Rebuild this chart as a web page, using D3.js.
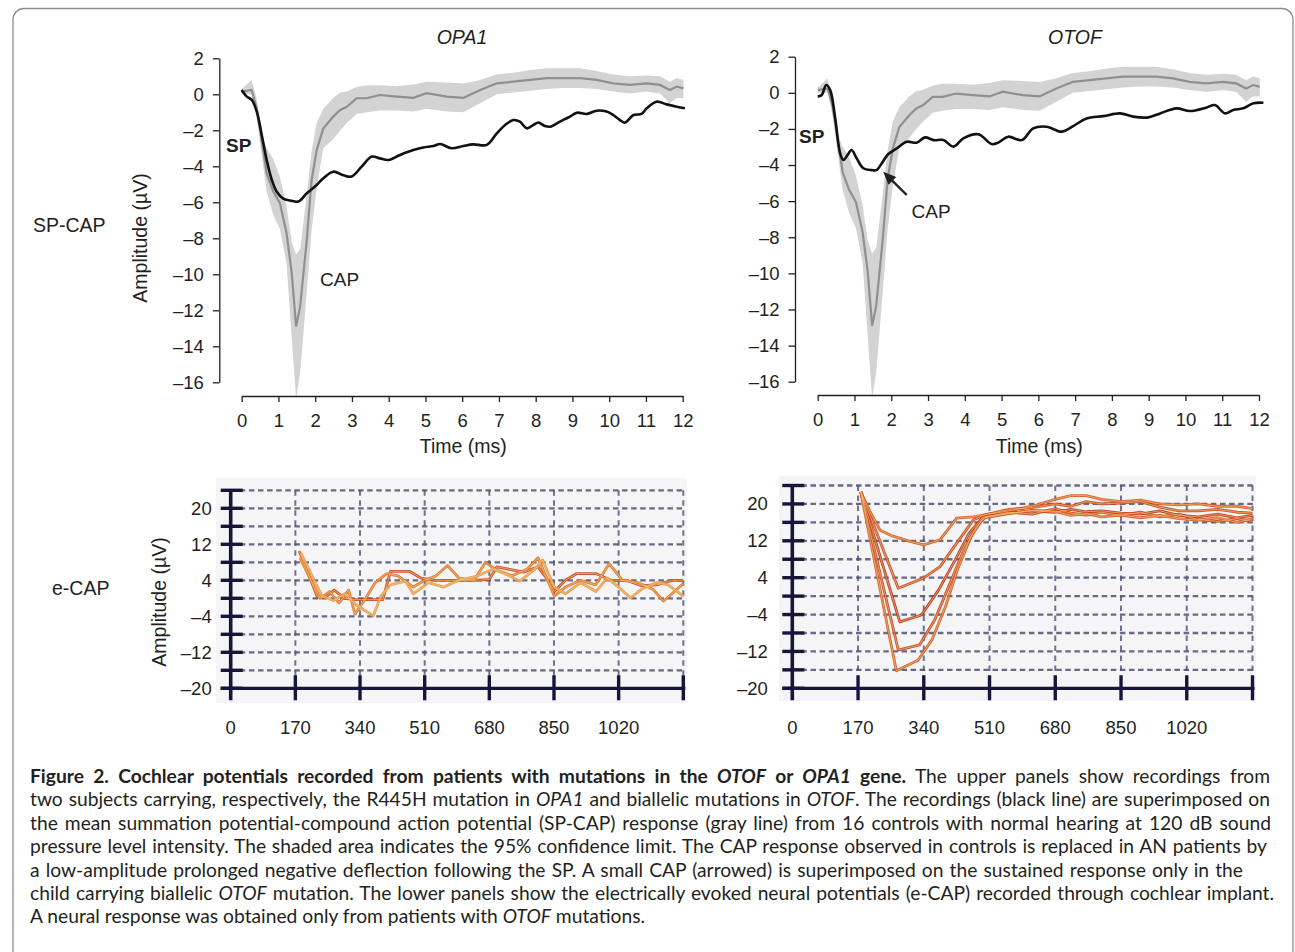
<!DOCTYPE html>
<html lang="en">
<head>
<meta charset="UTF-8" />
<title>Cochlear potentials</title>
<script src="https://cdn.jsdelivr.net/npm/d3@7"></script>
<style>
  body { margin: 0; background: #fff; }
  svg { display: block; font-family: "Liberation Sans", Arial, sans-serif; }
</style>
</head>
<body>
<svg id="fig" width="1295" height="952"></svg>
<script>

// ---- SP-CAP data (time in ms, amplitude in uV) ----
// control mean and 95% limits (same controls in both upper panels)
var ctrlTime = [0, 0.27, 0.4, 0.6, 0.68, 0.86, 1.04, 1.22, 1.36, 1.48, 1.59, 1.77, 1.9, 2.04, 2.22, 2.49, 2.68, 2.86, 3.13, 3.4,
                3.76, 4.22, 4.67, 5.03, 5.58, 6.03, 6.49, 6.94, 7.39, 7.85, 8.3, 8.75, 9.2, 9.66, 10.11, 10.57, 11.02, 11.38, 11.65, 11.84, 12.02];
var ctrlMean = [0.15, 0.24, -0.7, -3.3, -4.4, -5.4, -6.05, -7.7, -9.9, -12.9, -11.8, -8.1, -4.8, -3.1, -1.9, -1.24, -0.87, -0.69, -0.22, -0.22,
                -0.04, -0.13, -0.2, 0.06, -0.13, -0.2, 0.24, 0.61, 0.7, 0.8, 0.9, 0.9, 0.9, 0.8, 0.61, 0.52, 0.61, 0.52, 0.24, 0.43, 0.33];
var ctrlLow  = [0.0, 0.0, -1.2, -4.2, -5.4, -6.7, -7.5, -9.4, -13.5, -16.9, -15.5, -11, -7.6, -5.2, -3.0, -2.5, -2.0, -1.6, -1.1, -1.0,
                -0.9, -0.9, -0.95, -0.8, -0.95, -1.0, -0.5, 0.0, 0.1, 0.2, 0.3, 0.35, 0.35, 0.3, 0.15, 0.05, 0.15, 0.05, -0.5, -0.2, -0.2];
var ctrlHigh = [0.3, 0.8, -0.2, -2.6, -3.0, -3.6, -4.6, -6.2, -8.2, -8.9, -8.6, -5.6, -3.2, -1.6, -0.8, -0.2, 0.1, 0.15, 0.4, 0.5,
                0.5, 0.45, 0.55, 0.7, 0.65, 0.6, 0.8, 1.1, 1.2, 1.35, 1.45, 1.45, 1.45, 1.3, 1.1, 1.0, 1.05, 1.0, 0.7, 0.9, 0.8];

// OPA1 patient recording
var opa1Time = [0, 0.14, 0.27, 0.41, 0.54, 0.68, 0.82, 0.95, 1.13, 1.32, 1.54, 1.77, 2.04, 2.22, 2.49, 2.77, 2.99, 3.27, 3.54, 3.76,
                3.99, 4.31, 4.67, 4.94, 5.22, 5.4, 5.71, 6.03, 6.3, 6.67, 6.94, 7.17, 7.39, 7.57, 7.76, 7.94, 8.07, 8.25, 8.39, 8.66,
                8.93, 9.12, 9.39, 9.66, 9.93, 10.11, 10.29, 10.43, 10.66, 10.88, 11.02, 11.29, 11.56, 11.84, 12.06];
var opa1Amp  = [0.24, -0.13, -0.3, -0.96, -2.2, -3.65, -4.76, -5.4, -5.8, -5.9, -5.96, -5.5, -5.04, -4.67, -4.3, -4.5, -4.57, -4.0, -3.46, -3.56,
                -3.65, -3.37, -3.1, -2.95, -2.87, -2.76, -3.0, -2.87, -2.78, -2.81, -2.17, -1.7, -1.43, -1.52, -1.89, -1.7, -1.57, -1.76, -1.8, -1.52,
                -1.24, -1.02, -1.09, -0.91, -0.96, -1.15, -1.43, -1.57, -1.15, -1.09, -0.78, -0.41, -0.56, -0.69, -0.78];

// OTOF patient recording
var otofTime = [0, 0.11, 0.23, 0.34, 0.47, 0.61, 0.7, 0.81, 0.92, 1.06, 1.24, 1.47, 1.6, 1.74, 1.92, 2.15, 2.42, 2.69, 2.92, 3.15,
                3.42, 3.69, 3.96, 4.37, 4.73, 4.91, 5.18, 5.55, 5.86, 6.23, 6.63, 6.95, 7.31, 7.77, 8.22, 8.58, 8.99, 9.31, 9.76, 10.12,
                10.58, 10.8, 11.08, 11.3, 11.57, 11.85, 12.12];
var otofAmp  = [-0.2, -0.12, 0.43, 0.15, -1.32, -3.35, -3.72, -3.45, -3.17, -3.63, -4.18, -4.28, -4.28, -3.91, -3.39, -3.08, -2.71, -2.76, -2.47, -2.62,
                -2.62, -2.98, -2.52, -2.3, -2.84, -2.76, -2.43, -2.62, -1.97, -1.88, -2.15, -1.84, -1.42, -1.29, -1.14, -1.32, -1.36, -1.14, -0.86, -1.01,
                -0.81, -0.68, -1.14, -0.95, -0.86, -0.58, -0.55];

var ampTicks  = [2, 0, -2, -4, -6, -8, -10, -12, -14, -16];
var timeTicks = [0, 1, 2, 3, 4, 5, 6, 7, 8, 9, 10, 11, 12];

// arrow pointing at the small CAP in the OTOF recording: [time, amp]
var capArrowTail = [2.42, -5.66];
var capArrowTip  = [1.78, -4.37];

// ---- e-CAP data (time units as printed, amplitude in uV) ----
var ecapLabelTicks = [20, 12, 4, -4, -12, -20];
var ecapGridLevels = [24, 20, 16, 12, 8, 4, 0, -4, -8, -12, -16, -20];
var ecapTimeTicks  = [0, 170, 340, 510, 680, 850, 1020];
var ecapTimeMax = 1190;

var opa1Ecap1 = [[180,10.5],[228,0.3],[250,0.3],[272,1.8],[300,0],[330,-0.3],[360,-0.3],[400,-0.3],[420,6],[470,6],[500,4.5],[540,4],[580,4],
                 [640,4],[680,4.2],[700,7],[730,6.5],[770,5.8],[808,7],[830,4.5],[851,1.5],[880,4],[910,5.5],[960,5.5],[1000,4],[1040,4],
                 [1080,2.8],[1120,3],[1160,4],[1190,4]];
var opa1Ecap2 = [[182,9],[235,0],[260,1.5],[285,-1],[310,1.8],[327,-3.5],[355,0],[380,3.5],[410,5.5],[440,5],[480,2.5],[510,4],[540,5],
                 [570,7.3],[600,4.5],[640,4],[670,8],[700,6.2],[740,5],[780,6.5],[808,9],[851,0.5],[880,2.5],[920,4],[960,3],[995,7.7],
                 [1030,4],[1070,3.5],[1110,2],[1138,-0.6],[1160,1],[1190,3.3]];
var opa1Ecap3 = [[185,10],[240,0.5],[270,-0.5],[300,1],[330,-1.5],[375,-3.9],[395,0.5],[420,3],[460,3.8],[480,1],[520,3.5],[560,2.5],
                 [600,4],[650,5],[690,6.5],[720,5.5],[760,3.8],[800,6.5],[820,8.5],[851,2.5],[880,1],[920,3.5],[960,1.5],[990,4.5],
                 [1020,2.5],[1051,0.1],[1080,2],[1120,3.5],[1150,3],[1190,0.5]];

var otofEcap1 = [[177,22.6],[200,18.5],[227,14.3],[260,13],[300,12],[339,11.1],[382,12.2],[425,16.9],[468,17.2],[510,17.8],[560,18.5],
                 [620,19.5],[680,21],[720,21.8],[760,21.8],[800,21],[850,20.5],[900,20.8],[950,20],[1000,19.8],[1050,20],[1100,19.5],
                 [1150,19.5],[1190,19]];
var otofEcap2 = [[177,22.6],[274,1.7],[339,3.9],[382,6.4],[425,11.5],[468,16.5],[495,17.6],[560,18.8],[620,19.2],[680,20],[720,19.5],
                 [760,20.5],[800,20],[850,20.2],[900,20.5],[950,19.3],[1000,18.5],[1050,18.5],[1100,18.8],[1150,18.2],[1190,18]];
var otofEcap3 = [[177,22.6],[278,-5.6],[334,-4.1],[378,1.3],[421,7.8],[457,13.6],[492,17.1],[560,18],[620,18.5],[680,18.2],[720,18.8],
                 [760,18.3],[800,18.5],[850,18],[900,17.8],[950,18.5],[1000,17.5],[1050,17.2],[1100,17.8],[1150,17],[1190,17.5]];
var otofEcap4 = [[177,22.6],[274,-11.7],[329,-10.6],[368,-5.2],[404,2],[440,9.3],[476,15.1],[500,17.2],[560,18.2],[620,17.8],[680,19],
                 [720,18],[760,17.6],[800,18.2],[850,17.5],[900,18.2],[950,17.2],[1000,17.8],[1050,16.6],[1100,16.2],[1150,16.8],[1190,16.2]];
var otofEcap5 = [[177,22.6],[269,-16.2],[325,-13.9],[361,-9.5],[396,-2.3],[427,5.7],[462,12.9],[493,16.9],[560,17.9],[620,18.6],[680,18.4],
                 [720,17.5],[760,17.9],[800,17.2],[850,17.6],[900,17],[950,17.5],[1000,16.8],[1050,16.5],[1100,17],[1150,16],[1190,16.8]];


var svg = d3.select("#fig");
var ink = "#231f20";
var axisInk = "#16163a";

function minusFmt(d) { return d < 0 ? "\u2013" + Math.abs(d) : String(d); }

// frame round the figure (bottom edge falls outside the page)
svg.append("rect")
   .attr("x", 13).attr("y", 8.5)
   .attr("width", 1280).attr("height", 990)
   .attr("rx", 11)
   .attr("fill", "none")
   .attr("stroke", "#8c8c8c")
   .attr("stroke-width", 1.3);

// ---------- upper panels ----------
function drawTop(p) {
  var x = d3.scaleLinear().domain([0, 12]).range([p.left, p.right]);
  var y = d3.scaleLinear().domain([-16, 2]).range([p.bottom, p.top]);
  var g = svg.append("g");

  // 95% band
  var band = d3.area()
    .x(function(d) { return x(d); })
    .y0(function(d, i) { return y(ctrlLow[i]); })
    .y1(function(d, i) { return y(ctrlHigh[i]); });
  g.append("path").datum(ctrlTime)
   .attr("d", band)
   .attr("fill", "#d3d3d3");

  // control mean
  var mean = d3.line()
    .x(function(d) { return x(d); })
    .y(function(d, i) { return y(ctrlMean[i]); });
  g.append("path").datum(ctrlTime)
   .attr("d", mean)
   .attr("fill", "none")
   .attr("stroke", "#8f8f8f")
   .attr("stroke-width", 2.2);

  // patient
  var rec = d3.line()
    .curve(d3.curveCatmullRom)
    .x(function(d) { return x(d); })
    .y(function(d, i) { return y(p.amp[i]); });
  g.append("path").datum(p.time)
   .attr("d", rec)
   .attr("fill", "none")
   .attr("stroke", "#111")
   .attr("stroke-width", 2.6)
   .attr("stroke-linejoin", "round");

  // y axis
  var yAxis = d3.axisLeft(y)
    .tickValues(ampTicks)
    .tickFormat(minusFmt)
    .tickSize(6.5)
    .tickSizeOuter(0)
    .tickPadding(9);
  var ya = g.append("g")
    .attr("transform", "translate(" + p.yAxisX + ",0)")
    .call(yAxis);

  // x axis
  var xAxis = d3.axisBottom(x)
    .tickValues(timeTicks)
    .tickSize(6)
    .tickSizeOuter(0)
    .tickPadding(12);
  var xa = g.append("g")
    .attr("transform", "translate(0," + p.xAxisY + ")")
    .call(xAxis);

  [ya, xa].forEach(function(a) {
    a.attr("font-family", null).attr("font-size", null);
    a.selectAll("text").attr("fill", ink).style("font-size", "18.5px");
    a.selectAll("line,path").attr("stroke", ink).attr("stroke-width", 1.3);
  });

  // axis titles and panel title
  g.append("text")
   .attr("x", (p.left + p.right) / 2 + 1).attr("y", 453)
   .attr("text-anchor", "middle")
   .attr("fill", ink).style("font-size", "19.5px")
   .text("Time (ms)");

  g.append("text")
   .attr("x", p.titleX).attr("y", 43.5)
   .attr("text-anchor", "middle")
   .attr("fill", ink).style("font-size", "19.5px").style("font-style", "italic")
   .text(p.title);

  // SP marker
  g.append("text")
   .attr("x", p.spX).attr("y", p.spY)
   .attr("fill", ink).style("font-size", "19px").style("font-weight", "bold")
   .text("SP");

  return { x: x, y: y, g: g };
}

var left = drawTop({
  left: 241.7, right: 682.7, top: 58.3, bottom: 382.3,
  yAxisX: 219.3, xAxisY: 396,
  time: opa1Time, amp: opa1Amp,
  title: "OPA1", titleX: 462,
  spX: 226, spY: 151.5
});

var right = drawTop({
  left: 817.7, right: 1259, top: 56.7, bottom: 381.7,
  yAxisX: 795, xAxisY: 395,
  time: otofTime, amp: otofAmp,
  title: "OTOF", titleX: 1075,
  spX: 799, spY: 143
});

// CAP labels
left.g.append("text")
  .attr("x", 320).attr("y", 286)
  .attr("fill", ink).style("font-size", "19px")
  .text("CAP");

right.g.append("text")
  .attr("x", 911.5).attr("y", 218)
  .attr("fill", ink).style("font-size", "19px")
  .text("CAP");

// arrow at small CAP
(function() {
  var tx = right.x(capArrowTail[0]), ty = right.y(capArrowTail[1]);
  var hx = right.x(capArrowTip[0]), hy = right.y(capArrowTip[1]);
  var dx = hx - tx, dy = hy - ty, len = Math.sqrt(dx * dx + dy * dy);
  var ux = dx / len, uy = dy / len;
  var headL = 13, headW = 5.5;
  var bx = hx - ux * headL, by = hy - uy * headL;
  right.g.append("line")
    .attr("x1", tx).attr("y1", ty).attr("x2", bx + ux * 2).attr("y2", by + uy * 2)
    .attr("stroke", ink).attr("stroke-width", 2.4);
  right.g.append("path")
    .attr("d", "M" + hx + "," + hy +
               "L" + (bx - uy * headW) + "," + (by + ux * headW) +
               "L" + (bx + uy * headW) + "," + (by - ux * headW) + "Z")
    .attr("fill", ink);
})();

// row labels and y titles
svg.append("text")
   .attr("x", 33).attr("y", 231.5)
   .attr("fill", ink).style("font-size", "19.5px")
   .text("SP-CAP");

svg.append("text")
   .attr("x", 52).attr("y", 594.5)
   .attr("fill", ink).style("font-size", "19.5px")
   .text("e-CAP");

svg.append("text")
   .attr("transform", "translate(146.5,238) rotate(-90)")
   .attr("text-anchor", "middle")
   .attr("fill", ink).style("font-size", "19.5px")
   .text("Amplitude (\u00b5V)");

svg.append("text")
   .attr("transform", "translate(165.5,602) rotate(-90)")
   .attr("text-anchor", "middle")
   .attr("fill", ink).style("font-size", "19.5px")
   .text("Amplitude (\u00b5V)");

// ---------- lower panels ----------
function drawEcap(p) {
  var x = d3.scaleLinear().domain([0, ecapTimeMax]).range([p.left, p.right]);
  var y = d3.scaleLinear().domain([-20, 24]).range([p.bottom, p.top]);
  var g = svg.append("g");

  g.append("rect")
   .attr("x", p.bg[0]).attr("y", p.bg[1])
   .attr("width", p.bg[2] - p.bg[0]).attr("height", p.bg[3] - p.bg[1])
   .attr("fill", "#f5f5f7");

  // dashed grid
  var gridH = ecapGridLevels.filter(function(v) { return v > -20; });
  g.selectAll(".gh").data(gridH).enter().append("line")
   .attr("x1", x(0)).attr("x2", x(ecapTimeMax) + 2)
   .attr("y1", function(d) { return y(d); })
   .attr("y2", function(d) { return y(d); })
   .attr("stroke", "#4d5170")
   .attr("stroke-width", 2.3)
   .attr("stroke-opacity", 0.85)
   .attr("stroke-dasharray", "5.5 3.6");

  var gridV = ecapTimeTicks.slice(1).concat([ecapTimeMax]);
  g.selectAll(".gv").data(gridV).enter().append("line")
   .attr("x1", function(d) { return x(d); })
   .attr("x2", function(d) { return x(d); })
   .attr("y1", y(24)).attr("y2", y(-20))
   .attr("stroke", "#4d5170")
   .attr("stroke-width", 2)
   .attr("stroke-opacity", 0.8)
   .attr("stroke-dasharray", "5.5 4.5");

  // traces: darker edge with a pale core
  var line = d3.line()
    .x(function(d) { return x(d[0]); })
    .y(function(d) { return y(d[1]); });
  p.traces.forEach(function(tr, i) {
    g.append("path").datum(tr)
     .attr("d", line)
     .attr("fill", "none")
     .attr("stroke", p.colors[i])
     .attr("stroke-width", 2.8)
     .attr("stroke-linejoin", "round")
     .attr("stroke-opacity", 0.9);
  });
  p.traces.forEach(function(tr) {
    g.append("path").datum(tr)
     .attr("d", line)
     .attr("fill", "none")
     .attr("stroke", "#f6c27a")
     .attr("stroke-width", 0.8)
     .attr("stroke-linejoin", "round")
     .attr("stroke-opacity", 0.85);
  });

  // axes (thick, ticks crossing the axis)
  var x0 = x(0);
  g.append("line")
   .attr("x1", x0).attr("x2", x0)
   .attr("y1", y(24) - 1).attr("y2", y(-20) + 12)
   .attr("stroke", axisInk).attr("stroke-width", 3.6);
  g.append("line")
   .attr("x1", x0 - 10).attr("x2", x(ecapTimeMax) + 2)
   .attr("y1", y(-20)).attr("y2", y(-20))
   .attr("stroke", axisInk).attr("stroke-width", 3.2);

  g.selectAll(".yt").data(ecapGridLevels).enter().append("line")
   .attr("x1", x0 - 10).attr("x2", x0 + 12)
   .attr("y1", function(d) { return y(d); })
   .attr("y2", function(d) { return y(d); })
   .attr("stroke", axisInk).attr("stroke-width", 3.4);

  g.selectAll(".xt").data(ecapTimeTicks.slice(1).concat([ecapTimeMax])).enter().append("line")
   .attr("x1", function(d) { return x(d); })
   .attr("x2", function(d) { return x(d); })
   .attr("y1", y(-20) - 13).attr("y2", y(-20) + 12)
   .attr("stroke", axisInk).attr("stroke-width", 3.4);

  // tick labels
  g.selectAll(".yl").data(ecapLabelTicks).enter().append("text")
   .attr("x", x0 - p.labelGap)
   .attr("y", function(d) { return y(d); })
   .attr("dy", "0.35em")
   .attr("text-anchor", "end")
   .attr("fill", ink).style("font-size", "18.5px")
   .text(minusFmt);

  g.selectAll(".xl").data(ecapTimeTicks).enter().append("text")
   .attr("x", function(d) { return x(d); })
   .attr("y", 733.5)
   .attr("text-anchor", "middle")
   .attr("fill", ink).style("font-size", "18.5px")
   .text(function(d) { return d; });

  return { x: x, y: y };
}

drawEcap({
  left: 230.7, right: 683.3, top: 490.3, bottom: 688.3,
  bg: [216, 478, 687, 703], labelGap: 19,
  traces: [opa1Ecap1, opa1Ecap2, opa1Ecap3],
  colors: ["#c8441a", "#dc7326", "#e59a45"]
});

drawEcap({
  left: 792.3, right: 1252.5, top: 485.5, bottom: 688.3,
  bg: [779, 476, 1256, 701], labelGap: 24.5,
  traces: [otofEcap1, otofEcap2, otofEcap3, otofEcap4, otofEcap5],
  colors: ["#d0581e", "#c8441a", "#b8300f", "#c4401a", "#d0581e"]
});

// ---------- caption ----------
var capLines = [
  [["b", "Figure 2. Cochlear potentials recorded from patients with mutations in the "], ["bi", "OTOF"], ["b", " or "], ["bi", "OPA1"], ["b", " gene."], ["r", " The upper panels show recordings from"]],
  [["r", "two subjects carrying, respectively, the R445H mutation in "], ["i", "OPA1"], ["r", " and biallelic mutations in "], ["i", "OTOF"], ["r", ". The recordings (black line) are superimposed on"]],
  [["r", "the mean summation potential-compound action potential (SP-CAP) response (gray line) from 16 controls with normal hearing at 120 dB sound"]],
  [["r", "pressure level intensity. The shaded area indicates the 95% confidence limit. The CAP response observed in controls is replaced in AN patients by"]],
  [["r", "a low-amplitude prolonged negative deflection following the SP. A small CAP (arrowed) is superimposed on the sustained response only in the"]],
  [["r", "child carrying biallelic "], ["i", "OTOF"], ["r", " mutation. The lower panels show the electrically evoked neural potentials (e-CAP) recorded through cochlear implant."]],
  [["r", "A neural response was obtained only from patients with "], ["i", "OTOF"], ["r", " mutations."]]
];
var capRight = [1270, 1270, 1271, 1267, 1243, 1274, null];
var capLeft = 30;

var capTexts = capLines.map(function(parts, i) {
  var t = svg.append("text")
    .attr("x", capLeft).attr("y", 783 + i * 23.4)
    .attr("fill", ink)
    .style("font-family", "Lato, 'Open Sans', sans-serif")
    .style("font-size", "16px");
  parts.forEach(function(pt) {
    t.append("tspan")
     .style("font-weight", pt[0].indexOf("b") >= 0 ? "bold" : "normal")
     .style("font-style", pt[0].indexOf("i") >= 0 ? "italic" : "normal")
     .text(pt[1]);
  });
  return t;
});

// pick the size that almost fills the widest justified line, then justify by word spacing
var worst = 0;
capTexts.forEach(function(t, i) {
  if (capRight[i]) worst = Math.max(worst, t.node().getComputedTextLength() / (capRight[i] - capLeft));
});
var capSize = 16 / worst * 0.985;
capTexts.forEach(function(t, i) {
  t.style("font-size", capSize + "px");
  if (capRight[i]) {
    var natural = t.node().getComputedTextLength();
    var spaces = t.text().split(" ").length - 1;
    t.attr("word-spacing", ((capRight[i] - capLeft) - natural) / spaces);
  }
});

</script>
</body>
</html>
